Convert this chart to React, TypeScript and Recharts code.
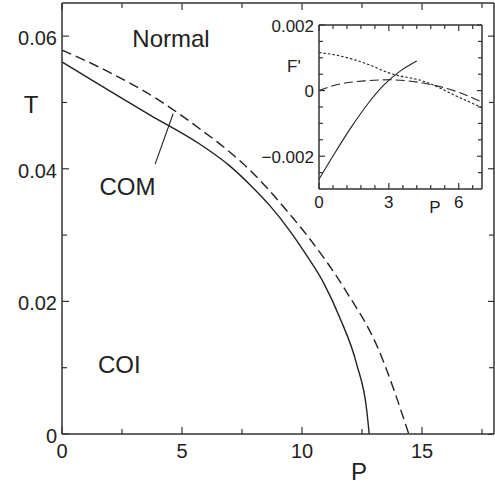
import React from "react"
import { LineChart, Line, XAxis, YAxis, ReferenceLine, CartesianGrid } from "recharts"

// main phase diagram: solid = COM/COI boundary, dashed = Normal boundary
const comP = [0, 2, 3.67, 5.75, 7.0, 7.83, 8.67, 9.5, 10.2, 10.9, 11.58, 12.28, 12.7, 12.8]
const comT = [0.0561, 0.0517, 0.0481, 0.0437, 0.0404, 0.0376, 0.0344, 0.0306, 0.0269, 0.0228, 0.0175, 0.0105, 0.0035, 0]
const normalP = [0, 2, 4.1, 5.75, 7.0, 7.83, 8.67, 9.5, 10.2, 11.86, 13.11, 14.45]
const normalT = [0.0579, 0.0545, 0.0502, 0.046, 0.0425, 0.0398, 0.0366, 0.0331, 0.03, 0.0214, 0.0134, 0]

// inset F'(P)
const insetSolidP = [0, 0.7, 1.4, 2.1, 2.8, 3.5, 4.2]
const insetSolidF = [-0.0027, -0.00188, -0.0011, -0.0004, 0.00018, 0.0006, 0.0009]
const insetDotP = [0, 0.6, 2, 3, 4.6, 6, 7]
const insetDotF = [0.00116, 0.0011, 0.00083, 0.00054, 0.00026, -0.0002, -0.00052]
const insetDashP = [0, 0.6, 2, 3, 4.3, 6, 7]
const insetDashF = [0, 0.00015, 0.0003, 0.00033, 0.00025, -0.00005, -0.00035]

const xMajor = [0, 5, 10, 15]
const xMinor = [2.5, 7.5, 12.5, 17.5]
const yMajor = [0, 0.02, 0.04, 0.06]
const yMinor = [0.01, 0.03, 0.05]
const insetXMajor = [0, 3, 6]
const insetXMinor = [0.6, 1.2, 1.8, 2.4, 3.6, 4.2, 4.8, 5.4, 6.6]
const insetYMajor = [-0.002, 0, 0.002]
const insetYMinor = [-0.0025, -0.0015, -0.001, -0.0005, 0.0005, 0.001, 0.0015]

const mainXDomain = [0, 18]
const mainYDomain = [0, 0.065]
const insetXDomain = [0, 7]
const insetYDomain = [-0.003, 0.002]

const zip = (xs: number[], ys: number[], k: string) => xs.map((x, i) => ({ P: x, [k]: ys[i] }))

const comData = zip(comP, comT, "T")
const normalData = zip(normalP, normalT, "T")
const solidData = zip(insetSolidP, insetSolidF, "F")
const dotData = zip(insetDotP, insetDotF, "F")
const dashData = zip(insetDashP, insetDashF, "F")

const INK = "#222"
const FRAME = "#333"
const FONT = "'Liberation Sans', Arial, Helvetica, sans-serif"

// chart boxes (size + margins), the plot size follows from them
const MAIN = { w: 495, h: 484, top: 3, right: 1, left: 62, bottom: 50 }
const INSET = { w: 240, h: 225, top: 25, right: 13, left: 64, bottom: 36 }
type Box = typeof MAIN
const plotW = (b: Box) => b.w - b.left - b.right
const plotH = (b: Box) => b.h - b.top - b.bottom

const isMajor = (majors: number[], v: number) => majors.some((m) => Math.abs(m - v) < 1e-9)

// inward ticks with labels on the bottom / left axes
function makeTick(
  side: "bottom" | "left",
  majors: number[],
  fmt: (v: number) => string,
  len: number,
  minorLen: number,
  fontSize: number,
  offset: number
) {
  return (props: any) => {
    const { x, y, payload } = props
    const v = payload.value
    const major = isMajor(majors, v)
    const l = major ? len : minorLen
    const line =
      side === "bottom" ? <line x1={x} x2={x} y1={y} y2={y - l} /> : <line x1={x} x2={x + l} y1={y} y2={y} />
    let label = null
    if (major) {
      label =
        side === "bottom" ? (
          <text x={x} y={y + offset} textAnchor="middle" fontSize={fontSize} fill={INK} fontFamily={FONT}>
            {fmt(v)}
          </text>
        ) : (
          <text x={x - 5} y={y + offset} textAnchor="end" fontSize={fontSize} fill={INK} fontFamily={FONT}>
            {fmt(v)}
          </text>
        )
    }
    return (
      <g>
        <g stroke={FRAME} strokeWidth={1.2}>{line}</g>
        {label}
      </g>
    )
  }
}

// top and right edges of the frame with mirrored ticks
function Mirror(props: {
  box: Box; xd: number[]; yd: number[]; xt: number[]; yt: number[]
  xMaj: number[]; yMaj: number[]; big: number; small: number
}) {
  const { box, xd, yd, xt, yt, xMaj, yMaj, big, small } = props
  const pw = plotW(box)
  const ph = plotH(box)
  const sx = (v: number) => box.left + ((v - xd[0]) / (xd[1] - xd[0])) * pw
  const sy = (v: number) => box.top + ph - ((v - yd[0]) / (yd[1] - yd[0])) * ph
  const right = box.left + pw
  return (
    <g stroke={FRAME} fill="none">
      <line x1={box.left} x2={right} y1={box.top} y2={box.top} strokeWidth={1.5} />
      <line x1={right} x2={right} y1={box.top} y2={box.top + ph} strokeWidth={1.5} />
      {xt.map((t) => (
        <line key={"x" + t} x1={sx(t)} x2={sx(t)} y1={box.top} y2={box.top + (isMajor(xMaj, t) ? big : small)} strokeWidth={1.2} />
      ))}
      {yt.map((t) => (
        <line key={"y" + t} x1={right} x2={right - (isMajor(yMaj, t) ? big - 1 : small)} y1={sy(t)} y2={sy(t)} strokeWidth={1.2} />
      ))}
    </g>
  )
}

const fmtMainX = (v: number) => String(v)
const fmtMainY = (v: number) => (v === 0 ? "0" : v.toFixed(2))
const fmtInsetY = (v: number) => (Math.abs(v) < 1e-12 ? "0" : v < 0 ? "\u2212" + Math.abs(v).toFixed(3) : v.toFixed(3))

const axisLine = { stroke: FRAME, strokeWidth: 1.5 }

const mainXt = [...xMajor, ...xMinor].sort((a, b) => a - b)
const mainYt = [...yMajor, ...yMinor].sort((a, b) => a - b)
const insetXt = [...insetXMajor, ...insetXMinor].sort((a, b) => a - b)
const insetYt = [...insetYMajor, ...insetYMinor].sort((a, b) => a - b)

function MainChart() {
  return (
    <LineChart width={MAIN.w} height={MAIN.h} margin={{ top: MAIN.top, right: MAIN.right, bottom: 0, left: 0 }}>
      <XAxis dataKey="P" type="number" domain={mainXDomain} ticks={mainXt} interval={0} height={MAIN.bottom}
        tickLine={false} tickSize={0} tickMargin={0} axisLine={axisLine}
        tick={makeTick("bottom", xMajor, fmtMainX, 7, 5, 20, 24)} />
      <YAxis type="number" domain={mainYDomain} ticks={mainYt} interval={0} width={MAIN.left}
        tickLine={false} tickSize={0} tickMargin={0} axisLine={axisLine}
        tick={makeTick("left", yMajor, fmtMainY, 7, 5, 20, 9)} />
      <ReferenceLine segment={[{ x: 3.88, y: 0.0407 }, { x: 4.63, y: 0.0483 }]} stroke={INK} strokeWidth={1.1} />
      <Line data={comData} dataKey="T" type="monotone" stroke={INK} strokeWidth={1.4} dot={false} isAnimationActive={false} />
      <Line data={normalData} dataKey="T" type="monotone" stroke={INK} strokeWidth={1.4}
        strokeDasharray="10 5" dot={false} isAnimationActive={false} />
    </LineChart>
  )
}

function InsetChart() {
  return (
    <LineChart width={INSET.w} height={INSET.h} margin={{ top: INSET.top, right: INSET.right, bottom: 0, left: 0 }}>
      <CartesianGrid horizontal={false} vertical={false} fill="#fff" />
      <XAxis dataKey="P" type="number" domain={insetXDomain} ticks={insetXt} interval={0} height={INSET.bottom}
        tickLine={false} tickSize={0} tickMargin={0} axisLine={axisLine}
        tick={makeTick("bottom", insetXMajor, fmtMainX, 6, 4, 17, 19)} />
      <YAxis type="number" domain={insetYDomain} ticks={insetYt} interval={0} width={INSET.left}
        tickLine={false} tickSize={0} tickMargin={0} axisLine={axisLine}
        tick={makeTick("left", insetYMajor, fmtInsetY, 6, 4, 17, 6.5)} />
      <Line data={solidData} dataKey="F" type="monotone" stroke={INK} strokeWidth={1.1} dot={false} isAnimationActive={false} />
      <Line data={dotData} dataKey="F" type="monotone" stroke={INK} strokeWidth={1.1}
        strokeDasharray="2.5 2" dot={false} isAnimationActive={false} />
      <Line data={dashData} dataKey="F" type="monotone" stroke={INK} strokeWidth={1.1} strokeDasharray="9 4" dot={false} isAnimationActive={false} />
    </LineChart>
  )
}

export default function App() {
  return (
    <div style={{ position: "absolute", left: 0, top: 0, width: 495, height: 484, background: "#fff", fontFamily: FONT }}>
      <MainChart />
      <svg width={495} height={484} style={{ position: "absolute", left: 0, top: 0, pointerEvents: "none" }}>
        <Mirror box={MAIN} xd={mainXDomain} yd={mainYDomain} xt={mainXt} yt={mainYt} xMaj={xMajor} yMaj={yMajor} big={7} small={5} />
        <g fontFamily={FONT} fill={INK} fontSize={24}>
          <text x={171} y={47} textAnchor="middle">Normal</text>
          <text x={127.5} y={195} textAnchor="middle">COM</text>
          <text x={98} y={373}>COI</text>
          <text x={31} y={113} textAnchor="middle">T</text>
          <text x={359} y={480} textAnchor="middle">P</text>
        </g>
      </svg>
      <div style={{ position: "absolute", left: 255, top: 0 }}>
        <InsetChart />
        <svg width={240} height={225} style={{ position: "absolute", left: 0, top: 0, pointerEvents: "none" }}>
          <Mirror box={INSET} xd={insetXDomain} yd={insetYDomain} xt={insetXt} yt={insetYt} xMaj={insetXMajor} yMaj={insetYMajor} big={6} small={4} />
          <g fontFamily={FONT} fill={INK} fontSize={17}>
            <text x={32} y={72}>F'</text>
            <text x={180} y={213} textAnchor="middle">P</text>
          </g>
        </svg>
      </div>
    </div>
  )
}
